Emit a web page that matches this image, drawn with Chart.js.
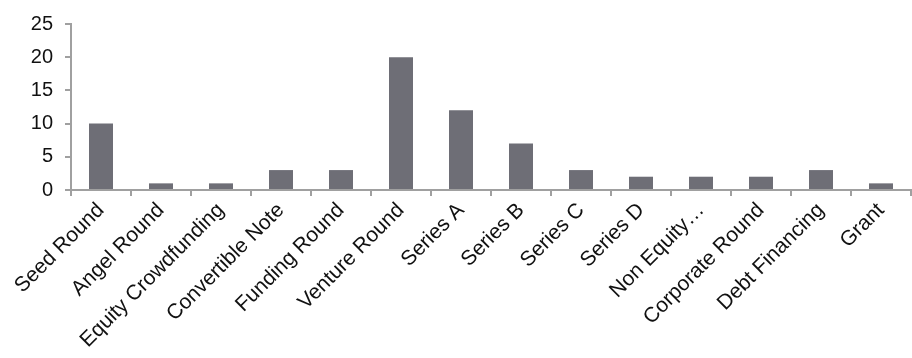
<!DOCTYPE html>
<html>
<head>
<meta charset="utf-8">
<script src="https://cdn.jsdelivr.net/npm/chart.js@4"></script>
<style>
  html, body { margin: 0; padding: 0; background: #fff; }
  #wrap { width: 912px; height: 358px; }
</style>
</head>
<body>
<div id="wrap"><canvas id="chart"></canvas></div>
<script>
// funding round types and how many of each
const rounds = ['Seed Round', 'Angel Round', 'Equity Crowdfunding', 'Convertible Note', 'Funding Round',
    'Venture Round', 'Series A', 'Series B', 'Series C', 'Series D', 'Non Equity\u2026',
    'Corporate Round', 'Debt Financing', 'Grant'];
const counts = [10, 1, 1, 3, 3, 20, 12, 7, 3, 2, 2, 2, 3, 1];
const yTicks = [0, 5, 10, 15, 20, 25];

const axisGrey = '#a0a0a0';
const labelFont = 'Liberation Sans, Arial, sans-serif';

function createChart(ctx, labels, data) {
    const chart = new Chart(ctx, {
        type: 'bar',
        data: {
            labels: labels,
            datasets: [{
                data: data,
                backgroundColor: '#6e6e76',
                borderWidth: 0,
                categoryPercentage: 0.8,
                barPercentage: 0.5
            }]
        },
        options: {
            responsive: true,
            maintainAspectRatio: false,
            animation: false,
            layout: { padding: { top: 16, right: 1, left: 0, bottom: 0 } },
            plugins: {
                legend: { display: false },
                tooltip: { enabled: false }
            },
            scales: {
                x: {
                    grid: { drawOnChartArea: false, drawTicks: true, tickLength: 6, color: axisGrey, lineWidth: 2 },
                    border: { display: true, color: axisGrey, width: 2 },
                    ticks: {
                        color: '#111',
                        font: { family: labelFont, size: 21 },
                        minRotation: 45,
                        maxRotation: 45,
                        autoSkip: false,
                        padding: 2
                    },
                    afterFit: function (scale) { scale.height = 168; }
                },
                y: {
                    min: 0,
                    max: 25,
                    afterBuildTicks: function (scale) {
                        scale.ticks = yTicks.map(v => ({ value: v }));
                    },
                    grid: { drawOnChartArea: false, drawTicks: true, tickLength: 6, color: axisGrey, lineWidth: 2 },
                    border: { display: true, color: axisGrey, width: 2 },
                    ticks: {
                        color: '#111',
                        font: { family: labelFont, size: 20 },
                        padding: 12
                    },
                    afterFit: function (scale) { scale.width = 71; }
                }
            }
        }
    });
    return chart;
}

createChart(document.getElementById('chart'), rounds, counts);
</script>
</body>
</html>
